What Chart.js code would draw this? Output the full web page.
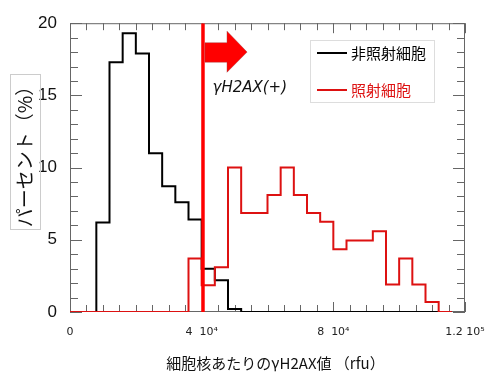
<!DOCTYPE html>
<html>
<head>
<meta charset="utf-8">
<script src="https://cdn.jsdelivr.net/npm/chart.js@4"></script>
<style>
  html, body { margin: 0; padding: 0; background: #fff; }
  #wrap { width: 486px; height: 376px; }
</style>
</head>
<body>
<div id="wrap"><canvas id="c" width="486" height="376"></canvas></div>
<script>
// bin start edges (rfu), last one closes the outline
const binEdges = [0, 4000, 8000, 12000, 16000, 20000, 24000, 28000, 32000, 36000,
  40000, 44000, 48000, 52000, 56000, 60000, 64000, 68000, 72000, 76000,
  80000, 84000, 88000, 92000, 96000, 100000, 104000, 108000, 112000, 116000];

// 非照射細胞 (%)
const nonIrradiated = [0, 0, 6.2, 17.3, 19.3, 17.9, 11.0, 8.7, 7.6, 6.4,
  3.0, 2.2, 0.2, 0, 0, 0, 0, 0, 0, 0,
  0, 0, 0, 0, 0, 0, 0, 0, 0, 0];

// 照射細胞 (%)
const irradiated = [0, 0, 0, 0, 0, 0, 0, 0, 0, 3.7,
  1.85, 3.1, 10.0, 6.85, 6.85, 8.1, 10.0, 8.1, 6.85, 6.25,
  4.35, 4.95, 4.95, 5.6, 1.9, 3.7, 1.9, 0.7, 0, 0];

const thresholdX = 40400;   // γH2AX(+) gate
const xTickValues = [0, 40000, 80000, 120000];
const xTickLabels = ['0', '4  10\u2074', '8  10\u2074', '1.2 10\u2075'];
const seriesNames = ['非照射細胞', '照射細胞'];

const toPoints = vals => binEdges.map((x, i) => ({ x: x, y: vals[i] }));

// frame + inward ticks
const framePlugin = {
  id: 'frame',
  beforeDatasetsDraw(chart) {
    const { ctx, chartArea: a, scales: { x, y } } = chart;
    ctx.save();
    ctx.strokeStyle = '#666';
    ctx.lineWidth = 1;
    ctx.strokeRect(a.left + 0.5, a.top + 0.5, a.right - a.left - 1, a.bottom - a.top - 1);
    ctx.beginPath();
    for (let v = 0; v <= 120000; v += 5000) {
      const px = Math.round(x.getPixelForValue(v)) + 0.5;
      const len = v % 40000 === 0 ? 10 : 7;
      ctx.moveTo(px, a.top); ctx.lineTo(px, a.top + len);
      ctx.moveTo(px, a.bottom); ctx.lineTo(px, a.bottom - len);
    }
    for (let v = 0; v <= 20; v++) {
      const py = Math.round(y.getPixelForValue(v)) + 0.5;
      const len = v % 5 === 0 ? 12 : 8;
      ctx.moveTo(a.left, py); ctx.lineTo(a.left + len, py);
      ctx.moveTo(a.right, py); ctx.lineTo(a.right - len, py);
    }
    ctx.stroke();

    // x tick labels
    ctx.fillStyle = '#222';
    ctx.font = '11px "DejaVu Sans"';
    ctx.textAlign = 'center';
    ctx.textBaseline = 'middle';
    xTickValues.forEach((v, i) => {
      ctx.fillText(xTickLabels[i], x.getPixelForValue(v), a.bottom + 20);
    });

    // axis titles
    ctx.fillStyle = '#111';
    ctx.font = '15px "Noto Sans CJK JP"';
    ctx.fillText('細胞核あたりのγH2AX値 （rfu）', (a.left + a.right) / 2 + 8, 363);

    ctx.strokeStyle = '#ccc';
    ctx.strokeRect(10.5, 74.5, 30, 155);
    ctx.translate(25, 152);
    ctx.rotate(-Math.PI / 2);
    ctx.font = '19px "Noto Sans CJK JP"';
    ctx.fillText('パーセント（%）', 0, 0);
    ctx.restore();
  },
  afterDatasetsDraw(chart) {
    const { ctx, scales: { x, y } } = chart;
    ctx.save();
    // arrow
    const x0 = x.getPixelForValue(41000), xh = x.getPixelForValue(47700), xt = x.getPixelForValue(53800);
    const yb1 = y.getPixelForValue(18.65), yb2 = y.getPixelForValue(17.3);
    const yh1 = y.getPixelForValue(19.45), yh2 = y.getPixelForValue(16.6);
    const yc = y.getPixelForValue(18.0);
    ctx.beginPath();
    ctx.moveTo(x0, yb1); ctx.lineTo(xh, yb1); ctx.lineTo(xh, yh1); ctx.lineTo(xt, yc);
    ctx.lineTo(xh, yh2); ctx.lineTo(xh, yb2); ctx.lineTo(x0, yb2); ctx.closePath();
    ctx.fillStyle = '#ff0000';
    ctx.fill();
    ctx.strokeStyle = 'rgba(150,60,60,0.5)';
    ctx.lineWidth = 0.8;
    ctx.stroke();

    ctx.fillStyle = '#111';
    ctx.font = 'italic 15px "DejaVu Sans"';
    ctx.textAlign = 'left';
    ctx.textBaseline = 'middle';
    ctx.fillText('γH2AX(+)', x.getPixelForValue(43300), y.getPixelForValue(15.5));

    // legend
    ctx.strokeStyle = '#ddd';
    ctx.lineWidth = 1;
    ctx.strokeRect(310.5, 40.5, 124, 62);
    const rows = [{ c: '#000', t: seriesNames[0], y: 53 }, { c: '#dd1111', t: seriesNames[1], y: 90 }];
    ctx.font = '15px "Noto Sans CJK JP"';
    rows.forEach(r => {
      ctx.strokeStyle = r.c;
      ctx.lineWidth = 2;
      ctx.beginPath(); ctx.moveTo(317, r.y); ctx.lineTo(347, r.y); ctx.stroke();
      ctx.fillStyle = r.c;
      ctx.fillText(r.t, 351, r.y);
    });
    ctx.restore();
  }
};

new Chart(document.getElementById('c'), {
  type: 'line',
  data: {
    datasets: [
      {
        label: 'gate',
        data: [{ x: thresholdX, y: 0 }, { x: thresholdX, y: 20 }],
        borderColor: '#ff0000', borderWidth: 3.5, pointRadius: 0, order: 0
      },
      {
        label: seriesNames[1],
        data: toPoints(irradiated),
        stepped: true, borderColor: '#dd1111', borderWidth: 2, pointRadius: 0, order: 1
      },
      {
        label: seriesNames[0],
        data: toPoints(nonIrradiated),
        stepped: true, borderColor: '#000', borderWidth: 2, pointRadius: 0, order: 2
      }
    ]
  },
  options: {
    responsive: false,
    animation: false,
    layout: { padding: { left: 0, top: 17, right: 21, bottom: 0 } },
    plugins: { legend: { display: false }, tooltip: { enabled: false } },
    scales: {
      x: {
        type: 'linear', min: 0, max: 120000,
        ticks: { display: false },
        grid: { display: false, drawTicks: false },
        border: { display: false },
        afterFit: s => { s.height = 64; }
      },
      y: {
        min: 0, max: 20,
        ticks: { stepSize: 5, padding: 13, color: '#111', font: { family: 'Liberation Sans', size: 17 } },
        grid: { display: false, drawTicks: false },
        border: { display: false },
        afterFit: s => { s.width = 70; }
      }
    }
  },
  plugins: [framePlugin]
});
</script>
</body>
</html>
